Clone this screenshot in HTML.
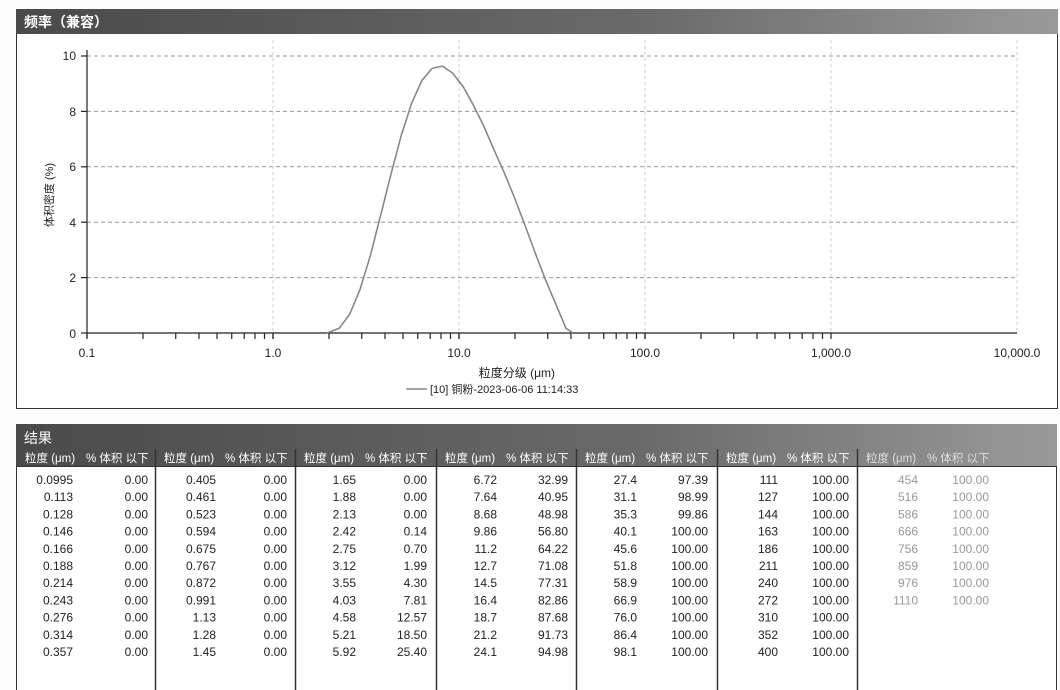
<!DOCTYPE html>
<html><head><meta charset="utf-8"><style>
html,body{margin:0;padding:0;background:#fff}
svg{display:block}
text{font-family:"Liberation Sans","Noto Sans CJK SC",sans-serif}
</style></head><body>
<svg width="1060" height="690" viewBox="0 0 1060 690" xmlns="http://www.w3.org/2000/svg">
<defs>
<linearGradient id="hb" x1="0" x2="1" y1="0" y2="0">
<stop offset="0" stop-color="#4a4a4a"/><stop offset="0.6" stop-color="#6a6a6a"/><stop offset="1" stop-color="#9a9a9a"/>
</linearGradient>
</defs>
<rect x="0" y="0" width="1060" height="690" fill="#fdfdfd"/>
<rect x="16.5" y="9.5" width="1041" height="399" fill="#fff" stroke="#333" stroke-width="1"/>
<rect x="16" y="9" width="1042" height="25" fill="url(#hb)"/>
<text x="24" y="27" font-size="14" fill="#fff" font-weight="bold">频率（兼容）</text>
<g stroke="#999" stroke-width="1" stroke-dasharray="4,3">
<line x1="87" x2="1017" y1="56" y2="56"/>
<line x1="87" x2="1017" y1="111.4" y2="111.4"/>
<line x1="87" x2="1017" y1="166.8" y2="166.8"/>
<line x1="87" x2="1017" y1="222.2" y2="222.2"/>
<line x1="87" x2="1017" y1="277.6" y2="277.6"/>
</g>
<g stroke="#ccc" stroke-width="1" stroke-dasharray="3,3">
<line x1="273" x2="273" y1="40" y2="333"/>
<line x1="459" x2="459" y1="40" y2="333"/>
<line x1="645" x2="645" y1="40" y2="333"/>
<line x1="831" x2="831" y1="40" y2="333"/>
<line x1="1017" x2="1017" y1="40" y2="333"/>
</g>
<g stroke="#222" stroke-width="1.2">
<line x1="87" x2="87" y1="50" y2="338"/>
<line x1="87" x2="1017" y1="333" y2="333"/>
<line x1="81" x2="87" y1="56" y2="56"/>
<line x1="81" x2="87" y1="111.4" y2="111.4"/>
<line x1="81" x2="87" y1="166.8" y2="166.8"/>
<line x1="81" x2="87" y1="222.2" y2="222.2"/>
<line x1="81" x2="87" y1="277.6" y2="277.6"/>
<line x1="81" x2="87" y1="333" y2="333"/>
</g>
<g id="ticks" stroke="#222" stroke-width="1.2"></g>
<g font-size="12" fill="#222" text-anchor="end">
<text x="76" y="60">10</text><text x="76" y="116">8</text><text x="76" y="171">6</text>
<text x="76" y="227">4</text><text x="76" y="282">2</text><text x="76" y="338">0</text>
</g>
<g font-size="12" fill="#222" text-anchor="middle">
<text x="87" y="357">0.1</text><text x="273" y="357">1.0</text><text x="459" y="357">10.0</text>
<text x="645" y="357">100.0</text><text x="831" y="357">1,000.0</text><text x="1017" y="357">10,000.0</text>
</g>
<text x="0" y="0" font-size="11" fill="#222" text-anchor="middle" transform="translate(53,195) rotate(-90)">体积密度 (%)</text>
<text x="555" y="377" font-size="12" fill="#222" text-anchor="end">粒度分级 (μm)</text>
<line x1="406" x2="427" y1="389" y2="389" stroke="#888" stroke-width="1.5"/>
<text x="430" y="393" font-size="11" fill="#222">[10] 铜粉-2023-06-06 11:14:33</text>
<polyline fill="none" stroke="#888" stroke-width="1.6" stroke-linejoin="round" points="327,333 339.2,328.3 349.6,314.4 359.8,290.1 370.2,256.2 380.4,216.3 390.8,174.8 401.1,135.9 411.5,103.6 421.8,80.7 432.1,68.4 442.4,66.1 452.7,73.1 463,86.4 473.3,105 483.7,125.9 494,149.8 504.3,172.8 514.6,198 524.9,225 535.2,252.9 545.5,279.8 555.8,304.1 566,328.3 573,333"/>
<rect x="16.5" y="424.5" width="1040" height="270" fill="#fff" stroke="#333"/>
<rect x="16" y="424" width="1041" height="42" fill="url(#hb)"/>
<text x="24" y="443" font-size="14" fill="#fff">结果</text>
<g id="tbl"></g>
</svg>
<script>
const NS="http://www.w3.org/2000/svg";
function el(p,t,a,txt){const e=document.createElementNS(NS,t);for(const k in a)e.setAttribute(k,a[k]);if(txt!==undefined)e.textContent=txt;p.appendChild(e);return e;}
const tk=document.getElementById('ticks');
for(let d=-1;d<3;d++)for(let m=1;m<=10;m++){const x=87+186*(d+1+Math.log10(m));el(tk,'line',{x1:x,x2:x,y1:333,y2:339});}
const data=[
["0.0995","0.113","0.128","0.146","0.166","0.188","0.214","0.243","0.276","0.314","0.357"],["0.00","0.00","0.00","0.00","0.00","0.00","0.00","0.00","0.00","0.00","0.00"],
["0.405","0.461","0.523","0.594","0.675","0.767","0.872","0.991","1.13","1.28","1.45"],["0.00","0.00","0.00","0.00","0.00","0.00","0.00","0.00","0.00","0.00","0.00"],
["1.65","1.88","2.13","2.42","2.75","3.12","3.55","4.03","4.58","5.21","5.92"],["0.00","0.00","0.00","0.14","0.70","1.99","4.30","7.81","12.57","18.50","25.40"],
["6.72","7.64","8.68","9.86","11.2","12.7","14.5","16.4","18.7","21.2","24.1"],["32.99","40.95","48.98","56.80","64.22","71.08","77.31","82.86","87.68","91.73","94.98"],
["27.4","31.1","35.3","40.1","45.6","51.8","58.9","66.9","76.0","86.4","98.1"],["97.39","98.99","99.86","100.00","100.00","100.00","100.00","100.00","100.00","100.00","100.00"],
["111","127","144","163","186","211","240","272","310","352","400"],["100.00","100.00","100.00","100.00","100.00","100.00","100.00","100.00","100.00","100.00","100.00"],
["454","516","586","666","756","859","976","1110"],["100.00","100.00","100.00","100.00","100.00","100.00","100.00","100.00"]];
const g=document.getElementById('tbl');
const gx=[16,155,295,436,576,717,857];
gx.forEach((x,i)=>{
 if(i>0)el(g,'line',{x1:x+.5,x2:x+.5,y1:449,y2:690,stroke:'#333','stroke-width':1.5});
 const c=i==6?'#ddd':'#fff';
 el(g,'text',{x:x+9,y:462,'font-size':11.5,fill:c},'粒度 (μm)');
 el(g,'text',{x:x+70,y:462,'font-size':11.5,fill:c},'% 体积 以下');
 const col=i==6?'#999':'#222';
 data[2*i].forEach((v,r)=>el(g,'text',{x:x+(i==0?57:61),y:484+r*17.2,'font-size':12,fill:col,'text-anchor':'end'},v));
 data[2*i+1].forEach((v,r)=>el(g,'text',{x:x+132,y:484+r*17.2,'font-size':12,fill:col,'text-anchor':'end'},v));
});
el(g,'rect',{x:16,y:466,width:1041,height:1,fill:'#333'});
</script>
</body></html>
